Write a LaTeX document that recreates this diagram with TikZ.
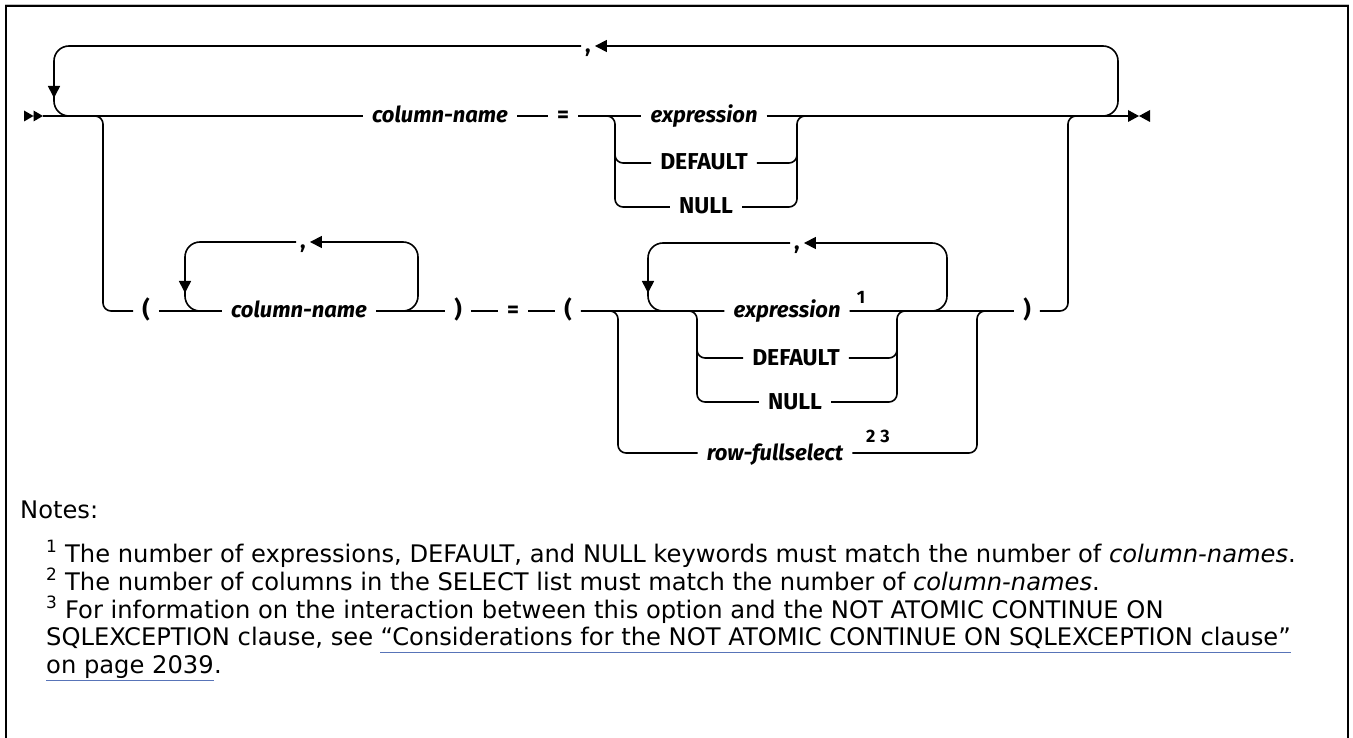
\documentclass[tikz,border=0pt]{standalone}
\usepackage{fontspec}
\setmainfont{Fira Sans}
\newfontfamily\notefont{DejaVu Sans}
\usetikzlibrary{arrows.meta}
\definecolor{linkblue}{RGB}{88,116,184}

\begin{document}
\begin{tikzpicture}[x=1pt,y=-1pt,
  rail/.style={line width=1.6pt},
  kw/.style={inner xsep=9pt,inner ysep=0pt,text height=14pt,text depth=0pt,font=\fontsize{23}{23}\selectfont\bfseries},
  ident/.style={kw,font=\fontsize{22}{22}\selectfont\bfseries\itshape},
  punct/.style={kw,inner xsep=4pt},
  fnote/.style={inner sep=0pt,font=\fontsize{18}{18}\selectfont\bfseries},
  txt/.style={anchor=base west,inner sep=0pt,font=\notefont\fontsize{24.2}{24.2}\selectfont},
  loopback/.style={rail,rounded corners=15pt,-{Triangle[length=12pt,width=12pt]}},
  ring/.style={rail,rounded corners=15pt},
  fork/.style={rail,rounded corners=8pt},
  dnarrow/.style={rail,-{Triangle[length=12pt,width=12pt]}}]
\useasboundingbox (0,0) rectangle (1353,738);

% frame
\draw[gray!50,line width=1pt] (5,4.5) -- (1349,4.5);
\draw[line width=2pt] (6,738) -- (6,6) -- (1348,6) -- (1348,738);

% start and end marks
\coordinate (start) at (43,116);
\coordinate (fin) at (1128,116);
\fill (24,110.5) -- (33.5,116) -- (24,121.5) -- cycle (33.5,110.5) -- (start) -- (33.5,121.5) -- cycle;
\fill (1128,110) -- (1139,116) -- (1128,122) -- cycle (1150,110) -- (1139,116) -- (1150,122) -- cycle;

% row 1
\node[ident] (cn1) at (440,116) {column-name};
\node[kw] (eq1) at (563,116) {=};
\node[ident] (ex1) at (704,116) {expression};
\node[kw] (df1) at (704,163) {DEFAULT};
\node[kw] (nl1) at (706,207) {NULL};
\node[punct] (cm1) at (588,46) {,};
\draw[rail] (start) -- (cn1) -- (eq1) -- (ex1) -- (fin);
\draw[fork] (eq1.east) -- (615,116) |- (nl1);
\draw[fork] (615,150) |- (df1);
\draw[fork] (nl1) -| (797,116) -- (812,116);
\draw[fork] (df1) -| (797,140);
\draw[loopback] (1095,116) -- (1118,116) -- (1118,46) -- (cm1);
\draw[ring] (cm1) -- (54,46) -- (54,116) -- (80,116);
\draw[dnarrow] (54,78) -- (54,98);

% row 2
\node[kw] (lp2) at (146,311) {(};
\node[ident] (cn2) at (299,311) {column-name};
\node[punct] (cm2) at (303,242) {,};
\node[kw] (rp2) at (458,311) {)};
\node[kw] (eq2) at (513,311) {=};
\node[kw] (lp3) at (568,311) {(};
\draw[fork] (88,116) -- (103,116) -- (103,311) -- (lp2);
\draw[rail] (lp2) -- (cn2) -- (rp2) -- (eq2) -- (lp3);
\draw[loopback] (cn2) -- (418,311) -- (418,242) -- (cm2);
\draw[ring] (cm2) -- (185,242) -- (185,311) -- (cn2);
\draw[dnarrow] (185,275) -- (185,293);

% values list
\node[ident] (ex2) at (787,311) {expression};
\node[fnote] (n1) at (861,297) {1};
\node[kw] (df2) at (796,358) {DEFAULT};
\node[kw] (nl2) at (795,402) {NULL};
\node[ident] (rf2) at (775,453) {row-fullselect};
\node[fnote] (n23) at (878,436) {2\hspace{5pt}3};
\node[punct] (cm3) at (797,243) {,};
\node[kw] (rp3) at (1027,311) {)};
\draw[rail] (lp3) -- (ex2) -- (rp3);
\draw[fork] (lp3) -- (618,311) |- (rf2);
\draw[fork] (rf2) -| (977,311) -- (990,311);
\draw[fork] (660,311) -- (697,311) |- (nl2);
\draw[fork] (697,340) |- (df2);
\draw[fork] (nl2) -| (897,311) -- (910,311);
\draw[fork] (df2) -| (897,340);
\draw[loopback] (ex2) -- (947,311) -- (947,243) -- (cm3);
\draw[ring] (cm3) -- (648,243) -- (648,311) -- (ex2);
\draw[dnarrow] (648,275) -- (648,293);
\draw[fork] (rp3) -- (1068,311) -- (1068,116) -- (1090,116);

% notes
\node[txt] (nh) at (20,518) {Notes:};
\node[txt] (t1) at (46,562) {\textsuperscript{1} The number of expressions, DEFAULT, and NULL keywords must match the number of \textit{column-names}.};
\node[txt] (t2) at (46,590) {\textsuperscript{2} The number of columns in the SELECT list must match the number of \textit{column-names}.};
\node[txt] (t3) at (46,618) {\textsuperscript{3} For information on the interaction between this option and the NOT ATOMIC CONTINUE ON};
\node[txt] (t4) at (46,645) {SQLEXCEPTION clause, see};
\node[txt] (lk1) at ([xshift=7pt]t4.base east) {“Considerations for the NOT ATOMIC CONTINUE ON SQLEXCEPTION clause”};
\node[txt] (lk2) at (46,673) {on page 2039};
\node[txt] (dot) at (lk2.base east) {.};
\draw[linkblue,line width=1pt] ([yshift=-7pt]lk1.base west) -- ([yshift=-7pt]lk1.base east);
\draw[linkblue,line width=1pt] ([yshift=-7pt]lk2.base west) -- ([yshift=-7pt]lk2.base east);
\end{tikzpicture}
\end{document}
